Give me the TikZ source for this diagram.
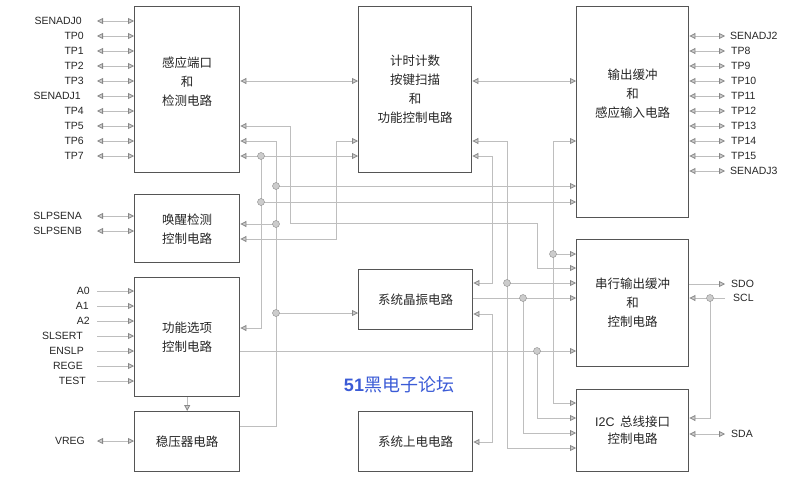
\documentclass[tikz,border=0pt]{standalone}
\usepackage{fontspec}
\setmainfont{Liberation Sans}
\newfontfamily\cjk{Noto Sans CJK SC}
\usetikzlibrary{arrows.meta,positioning}
\definecolor{ink}{HTML}{555555}
\definecolor{wirec}{HTML}{BEBEBE}
\definecolor{tipfill}{HTML}{CCCCCC}
\definecolor{tipedge}{HTML}{888888}
\definecolor{mark51}{HTML}{3B5BD6}
\tikzset{
  >={Triangle[length=6pt,width=6pt,fill=tipfill,color=tipedge]},
  every node/.style={text=black!85},
  blk/.style={draw=ink,line width=1.4pt,fill=white,anchor=north west,align=center,inner sep=0pt,font=\cjk\fontsize{12.5}{19}\selectfont},
  lbl/.style={font=\fontsize{10.5}{12}\selectfont,inner sep=0pt,text height=7.6pt,text depth=0pt},
  lbll/.style={lbl,anchor=east},
  lblr/.style={lbl,anchor=west},
  sig/.style={draw=wirec,line width=0.8pt},
  into/.style={sig,->},
  both/.style={sig,<->},
  dot/.style={circle,draw=tipedge,fill=tipfill,minimum size=7pt,inner sep=0pt},
}

\begin{document}
\begin{tikzpicture}[x=1pt,y=-1pt]
\useasboundingbox (0,0) rectangle (799,493);

% blocks
\node[blk,minimum width=105pt,minimum height=166pt,text depth=18pt] (sense) at (134,6) {感应端口\\和\\检测电路};
\node[blk,minimum width=113pt,minimum height=166pt] (timer) at (358,6) {计时计数\\按键扫描\\和\\功能控制电路};
\node[blk,minimum width=112pt,minimum height=211pt,text depth=37pt] (outbuf) at (576,6) {输出缓冲\\和\\感应输入电路};
\node[blk,minimum width=105pt,minimum height=68pt] (wake) at (134,194) {唤醒检测\\控制电路};
\node[blk,minimum width=105pt,minimum height=119pt] (func) at (134,277) {功能选项\\控制电路};
\node[blk,minimum width=105pt,minimum height=60pt] (reg) at (134,411) {稳压器电路};
\node[blk,minimum width=114pt,minimum height=60pt] (osc) at (358,269) {系统晶振电路};
\node[blk,minimum width=114pt,minimum height=60pt] (por) at (358,411) {系统上电电路};
\node[blk,minimum width=112pt,minimum height=127pt] (serial) at (576,239) {串行输出缓冲\\和\\控制电路};
\node[blk,minimum width=112pt,minimum height=82pt] (iic) at (576,389) {{\rmfamily I2C}\ \ 总线接口\\[-2pt]控制电路};

\node[font=\fontsize{18}{20}\selectfont,text=mark51] (mark) at (399,385) {\textbf{51}{\cjk 黑电子论坛}};

% pin ends
\coordinate (lx) at (97,0);
\coordinate (rx) at (725,0);

% sense pins
\node[lbll] (senadj0) at (82,21) {SENADJ0};
\node[lbll] (tp0) at (84,36) {TP0};
\node[lbll] (tp1) at (84,51) {TP1};
\node[lbll] (tp2) at (84,66) {TP2};
\node[lbll] (tp3) at (84,81) {TP3};
\node[lbll] (senadj1) at (81,96) {SENADJ1};
\node[lbll] (tp4) at (84,111) {TP4};
\node[lbll] (tp5) at (84,126) {TP5};
\node[lbll] (tp6) at (84,141) {TP6};
\node[lbll] (tp7) at (84,156) {TP7};
\draw[both] (lx |- senadj0) -- (sense.west |- senadj0);
\draw[both] (lx |- tp0) -- (sense.west |- tp0);
\draw[both] (lx |- tp1) -- (sense.west |- tp1);
\draw[both] (lx |- tp2) -- (sense.west |- tp2);
\draw[both] (lx |- tp3) -- (sense.west |- tp3);
\draw[both] (lx |- senadj1) -- (sense.west |- senadj1);
\draw[both] (lx |- tp4) -- (sense.west |- tp4);
\draw[both] (lx |- tp5) -- (sense.west |- tp5);
\draw[both] (lx |- tp6) -- (sense.west |- tp6);
\draw[both] (lx |- tp7) -- (sense.west |- tp7);

% wake pins
\node[lbll] (slpsena) at (82,216) {SLPSENA};
\node[lbll] (slpsenb) at (82,231) {SLPSENB};
\draw[both] (lx |- slpsena) -- (wake.west |- slpsena);
\draw[both] (lx |- slpsenb) -- (wake.west |- slpsenb);

% option pins
\node[lbll] (a0) at (90,291) {A0};
\node[lbll] (a1) at (89,306) {A1};
\node[lbll] (a2) at (90,321) {A2};
\node[lbll] (slsert) at (83,336) {SLSERT};
\node[lbll] (enslp) at (84,351) {ENSLP};
\node[lbll] (rege) at (83,366) {REGE};
\node[lbll] (test) at (86,381) {TEST};
\draw[into] (lx |- a0) -- (func.west |- a0);
\draw[into] (lx |- a1) -- (func.west |- a1);
\draw[into] (lx |- a2) -- (func.west |- a2);
\draw[into] (lx |- slsert) -- (func.west |- slsert);
\draw[into] (lx |- enslp) -- (func.west |- enslp);
\draw[into] (lx |- rege) -- (func.west |- rege);
\draw[into] (lx |- test) -- (func.west |- test);

\node[lbll] (vreg) at (85,441) {VREG};
\draw[both] (lx |- vreg) -- (reg.west |- vreg);

% output pins
\node[lblr] (senadj2) at (730,36) {SENADJ2};
\node[lblr] (tp8) at (731,51) {TP8};
\node[lblr] (tp9) at (731,66) {TP9};
\node[lblr] (tp10) at (731,81) {TP10};
\node[lblr] (tp11) at (731,96) {TP11};
\node[lblr] (tp12) at (731,111) {TP12};
\node[lblr] (tp13) at (731,126) {TP13};
\node[lblr] (tp14) at (731,141) {TP14};
\node[lblr] (tp15) at (731,156) {TP15};
\node[lblr] (senadj3) at (730,171) {SENADJ3};
\draw[both] (outbuf.east |- senadj2) -- (rx |- senadj2);
\draw[both] (outbuf.east |- tp8) -- (rx |- tp8);
\draw[both] (outbuf.east |- tp9) -- (rx |- tp9);
\draw[both] (outbuf.east |- tp10) -- (rx |- tp10);
\draw[both] (outbuf.east |- tp11) -- (rx |- tp11);
\draw[both] (outbuf.east |- tp12) -- (rx |- tp12);
\draw[both] (outbuf.east |- tp13) -- (rx |- tp13);
\draw[both] (outbuf.east |- tp14) -- (rx |- tp14);
\draw[both] (outbuf.east |- tp15) -- (rx |- tp15);
\draw[both] (outbuf.east |- senadj3) -- (rx |- senadj3);

\node[lblr] (sdo) at (731,284) {SDO};
\node[lblr] (scl) at (733,298) {SCL};
\node[lblr] (sda) at (731,434) {SDA};

% junctions and bends
\coordinate (c1) at (261,156); \coordinate (c2) at (261,202); \coordinate (c3) at (261,328);
\coordinate (p0) at (276,141); \coordinate (p1) at (276,186); \coordinate (p2) at (276,224);
\coordinate (p3) at (276,313); \coordinate (p4) at (276,426);
\coordinate (t1) at (290,223); \coordinate (t2) at (537,268);
\coordinate (k1) at (336,239);
\coordinate (q1) at (492,283);
\coordinate (r1) at (507,283); \coordinate (r2) at (507,448);
\coordinate (s1) at (492,314); \coordinate (s2) at (492,442);
\coordinate (u1) at (523,298); \coordinate (u2) at (523,433);
\coordinate (w1) at (537,351); \coordinate (w2) at (537,418);
\coordinate (v1) at (553,254); \coordinate (v2) at (553,403);
\coordinate (x1) at (710,298); \coordinate (x2) at (710,418);

% top row
\draw[both] (sense.east |- tp3) -- (timer.west |- tp3);
\draw[both] (timer.east |- tp3) -- (outbuf.west |- tp3);

% regulator supply
\draw[into] (reg.east |- p4) -| (p0) -- (sense.east |- p0);
\draw[into] (p1) -- (outbuf.west |- p1);
\draw[into] (p2) -- (wake.east |- p2);
\draw[into] (p3) -- (osc.west |- p3);
\draw[into] (func.south) -- (reg.north);

% option line
\draw[into] (c1) -- (sense.east |- c1);
\draw[into] (c1) -- (timer.west |- c1);
\draw[into] (c1) |- (func.east |- c3);
\draw[into] (c2) -- (outbuf.west |- c2);

\draw[both] (wake.east |- k1) -- (k1) |- (timer.west |- tp6);
\draw[both] (sense.east |- tp5) -| (t1) -| (t2) -- (serial.west |- t2);
\draw[both] (timer.east |- tp7) -| (q1) -- (osc.east |- q1);
\draw[both] (timer.east |- tp6) -| (r2) -- (iic.west |- r2);
\draw[into] (r1) -- (serial.west |- r1);
\draw[both] (por.east |- s2) -| (s1) -- (osc.east |- s1);

% clock
\draw[sig] (osc.east |- u1) -- (u1);
\draw[into] (u1) -- (serial.west |- u1);
\draw[into] (u1) |- (iic.west |- u2);

\draw[sig] (func.east |- w1) -- (w1);
\draw[into] (w1) -- (serial.west |- w1);
\draw[into] (w1) |- (iic.west |- w2);

\draw[both] (outbuf.west |- tp14) -| (v2) -- (iic.west |- v2);
\draw[into] (v1) -- (serial.west |- v1);

% serial bus pins
\draw[into] (serial.east |- sdo) -- (rx |- sdo);
\draw[into] (rx |- scl) -- (serial.east |- scl);
\draw[into] (x1) |- (iic.east |- x2);
\draw[both] (iic.east |- sda) -- (rx |- sda);

\node[dot] (j1) at (c1) {};
\node[dot] (j2) at (c2) {};
\node[dot] (j3) at (p1) {};
\node[dot] (j4) at (p2) {};
\node[dot] (j5) at (p3) {};
\node[dot] (j6) at (r1) {};
\node[dot] (j7) at (u1) {};
\node[dot] (j8) at (w1) {};
\node[dot] (j9) at (v1) {};
\node[dot] (j10) at (x1) {};

\end{tikzpicture}
\end{document}
